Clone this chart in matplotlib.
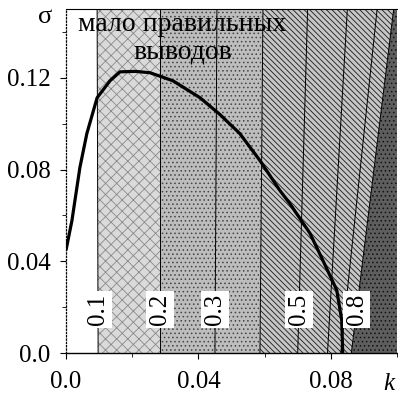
import numpy as np
import matplotlib.pyplot as plt
from matplotlib.ticker import MultipleLocator

plt.rcParams['font.family'] = ['Liberation Serif', 'DejaVu Serif']
plt.rcParams['hatch.linewidth'] = 0.6

# contour levels: k position where each line meets sigma=0 and sigma=0.15
levels = [0.1, 0.2, 0.3, 0.4, 0.5, 0.6, 0.7, 0.8]
k_bottom = [0.0097, 0.0284, 0.0450, 0.0586, 0.0700, 0.0790, 0.0830, 0.0862]
k_top = [0.0094, 0.0284, 0.0456, 0.0595, 0.0730, 0.0850, 0.0940, 0.0990]
labeled = ['0.1', '0.2', '0.3', '0.5', '0.8']

# thick boundary curve sigma(k)
curve_k = [0.0000, 0.0018, 0.0027, 0.0042, 0.0063, 0.0094, 0.0133, 0.0163,
           0.0210, 0.0254, 0.0323, 0.0405, 0.0465, 0.0525, 0.0586, 0.0646,
           0.0676, 0.0737, 0.0776, 0.0818, 0.0833, 0.0836]
curve_s = [0.0448, 0.0578, 0.0665, 0.0809, 0.0957, 0.1113, 0.1187, 0.1226,
           0.1228, 0.1222, 0.1187, 0.1113, 0.1040, 0.0957, 0.0839, 0.0709,
           0.0652, 0.0522, 0.0404, 0.0274, 0.0143, 0.0000]

xticks = [0.0, 0.04, 0.08]
xticklabels = ['0.0', '0.04', '0.08']
yticks = [0.0, 0.04, 0.08, 0.12]
yticklabels = ['0.0', '0.04', '0.08', '0.12']

kmax, smax = 0.1, 0.15

fig = plt.figure(figsize=(3.98, 4.0), dpi=100)
ax = fig.add_axes([66 / 398, 47 / 400, 331 / 398, 344 / 400])

s = np.linspace(0, smax, 60)


def level_k(i):
    return k_bottom[i] + (k_top[i] - k_bottom[i]) * s / smax


# shaded bands between contour lines: (from level, to level, face, hatch, hatch colour)
bands = [
    (0, 1, '#dadada', 'xxx', '#8a8a8a'),
    (1, 3, '#bdbdbd', '....', '#444444'),
    (3, 7, '#c6c6c6', '\\\\\\\\\\\\', '#1a1a1a'),
    (7, None, '#5e5e5e', '....', '#111111'),
]
for lo, hi, fc, hatch, hc in bands:
    left = level_k(lo)
    right = level_k(hi) if hi is not None else np.full_like(s, kmax + 0.01)
    ax.fill_betweenx(s, left, right, facecolor=fc, hatch=hatch,
                     edgecolor=hc, linewidth=0, zorder=1)

for i, lev in enumerate(levels):
    ax.plot(level_k(i), s, color='black', lw=0.7, zorder=2)

# contour labels
lab_s = 0.019
for i, lev in enumerate(levels):
    txt = f'{lev:.1f}'
    if txt in labeled:
        kk = k_bottom[i] + (k_top[i] - k_bottom[i]) * lab_s / smax
        ax.text(kk, lab_s, txt, rotation=90, ha='center', va='center',
                fontsize=18, zorder=5,
                bbox=dict(facecolor='white', edgecolor='none', pad=2))

ax.plot(curve_k, curve_s, color='black', lw=2.3, zorder=4,
        solid_capstyle='butt')

ax.text(0.0352, 0.1372, 'мало правильных\nвыводов', ha='center',
        va='center', fontsize=20, linespacing=1.15, zorder=6)

ax.set_xlim(0, kmax)
ax.set_ylim(0, smax)
ax.set_xticks(xticks)
ax.set_xticklabels(xticklabels)
ax.set_yticks(yticks)
ax.set_yticklabels(yticklabels)
ax.xaxis.set_minor_locator(MultipleLocator(0.02))
ax.yaxis.set_minor_locator(MultipleLocator(0.02))
ax.tick_params(which='major', direction='out', length=4, width=0.8,
               labelsize=18)
ax.tick_params(axis='x', which='major', pad=9)
ax.tick_params(axis='y', which='major', pad=7)
ax.tick_params(which='minor', direction='out', length=3, width=0.6)

ax.spines['right'].set_visible(False)
ax.spines['left'].set_linestyle(':')
ax.spines['left'].set_linewidth(0.9)
ax.spines['top'].set_linewidth(0.8)
ax.spines['bottom'].set_linewidth(1.0)

fig.text(45 / 398, 1 - 17 / 400, 'σ', ha='center', va='center', fontsize=19)
fig.text(389 / 398, 1 - 384 / 400, 'k', ha='center', va='center',
         fontsize=18, style='italic')

fig.savefig('out.png', dpi=100)
